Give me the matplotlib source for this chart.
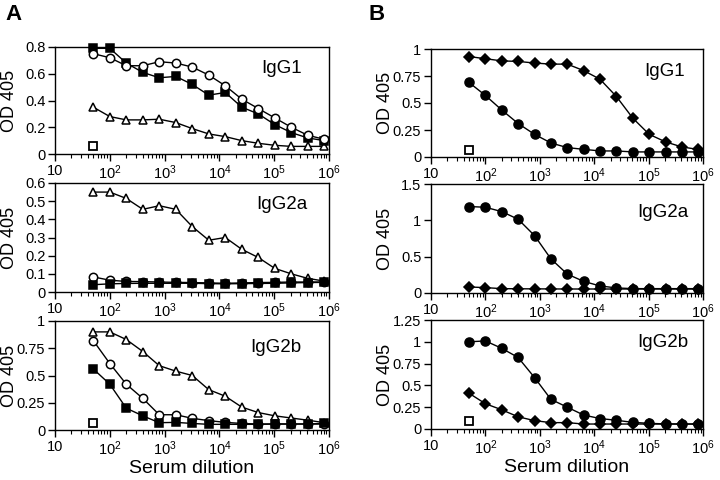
import numpy as np
import matplotlib
matplotlib.use('Agg')
import matplotlib.pyplot as plt
from matplotlib.ticker import LogLocator, NullFormatter

plt.rcParams['font.family'] = ['Liberation Sans', 'DejaVu Sans']
plt.rcParams['mathtext.fontset'] = 'custom'
plt.rcParams['mathtext.rm'] = 'Liberation Sans'
plt.rcParams['mathtext.it'] = 'Liberation Sans'

# serum dilutions (1:50, two-fold)
dilution = [50, 100, 200, 400, 800, 1600, 3200, 6400, 12800, 25600,
            51200, 102400, 204800, 409600, 819200]

# Panel A
a_igg1_circle = [0.75, 0.72, 0.66, 0.66, 0.69, 0.68, 0.65, 0.59, 0.51, 0.41,
                 0.34, 0.27, 0.20, 0.14, 0.11]
a_igg1_square = [0.79, 0.79, 0.68, 0.61, 0.57, 0.58, 0.52, 0.44, 0.46, 0.35,
                 0.30, 0.22, 0.16, 0.12, 0.10]
a_igg1_triangle = [0.35, 0.28, 0.255, 0.255, 0.26, 0.235, 0.19, 0.15, 0.13, 0.10,
                   0.08, 0.065, 0.057, 0.057, 0.057]
a_igg1_ctrl = 0.057

a_igg2a_triangle = [0.55, 0.55, 0.515, 0.455, 0.475, 0.455, 0.36, 0.285, 0.30, 0.235,
                    0.19, 0.13, 0.10, 0.075, 0.06]
a_igg2a_circle = [0.083, 0.065, 0.058, 0.057, 0.055, 0.053, 0.052, 0.05, 0.048, 0.05,
                  0.052, 0.053, 0.055, 0.055, 0.055]
a_igg2a_square = [0.04, 0.045, 0.047, 0.048, 0.048, 0.048, 0.048, 0.046, 0.045, 0.046,
                  0.047, 0.048, 0.05, 0.052, 0.053]

a_igg2b_triangle = [0.90, 0.90, 0.83, 0.72, 0.59, 0.54, 0.50, 0.37, 0.31, 0.21,
                    0.16, 0.13, 0.11, 0.09, 0.067]
a_igg2b_circle = [0.82, 0.61, 0.42, 0.29, 0.14, 0.14, 0.107, 0.086, 0.07, 0.06,
                  0.055, 0.055, 0.055, 0.055, 0.055]
a_igg2b_square = [0.56, 0.42, 0.20, 0.13, 0.067, 0.07, 0.06, 0.052, 0.052, 0.052,
                  0.052, 0.055, 0.055, 0.055, 0.06]
a_igg2b_ctrl = 0.06

# Panel B
b_igg1_diamond = [0.93, 0.91, 0.89, 0.885, 0.87, 0.86, 0.86, 0.80, 0.72, 0.56,
                  0.36, 0.21, 0.14, 0.093, 0.07]
b_igg1_circle = [0.69, 0.57, 0.435, 0.31, 0.21, 0.13, 0.087, 0.071, 0.056, 0.056,
                 0.047, 0.047, 0.047, 0.047, 0.047]
b_igg1_ctrl = 0.062

b_igg2a_circle = [1.19, 1.18, 1.12, 1.015, 0.79, 0.47, 0.26, 0.16, 0.097, 0.07,
                  0.06, 0.06, 0.06, 0.06, 0.06]
b_igg2a_diamond = [0.083, 0.074, 0.06, 0.058, 0.057, 0.056, 0.055, 0.055, 0.055, 0.055,
                   0.055, 0.055, 0.055, 0.055, 0.055]

b_igg2b_circle = [1.0, 1.01, 0.925, 0.82, 0.59, 0.34, 0.25, 0.16, 0.12, 0.10,
                  0.076, 0.065, 0.058, 0.057, 0.057]
b_igg2b_diamond = [0.41, 0.29, 0.22, 0.14, 0.096, 0.073, 0.073, 0.057, 0.057, 0.057,
                   0.057, 0.057, 0.057, 0.057, 0.057]
b_igg2b_ctrl = 0.092

xticklabels = ['10', '$10^2$', '$10^3$', '$10^4$', '$10^5$', '$10^6$']

fig = plt.figure(figsize=(7.2, 4.8), dpi=100)
W, H = 720.0, 480.0


def make_ax(x0, x1, y0, y1):
    return fig.add_axes([x0 / W, 1 - y1 / H, (x1 - x0) / W, (y1 - y0) / H])


def style(ax, yticks, ylabels, ymax, label, lx, ly, ylx):
    ax.set_xscale('log')
    ax.set_xlim(10, 1e6)
    ax.set_ylim(0, ymax)
    ax.set_xticks([10, 1e2, 1e3, 1e4, 1e5, 1e6])
    ax.set_xticklabels(xticklabels, fontsize=10.5)
    ax.xaxis.set_minor_locator(LogLocator(base=10, subs=np.arange(2, 10)))
    ax.xaxis.set_minor_formatter(NullFormatter())
    ax.set_yticks(yticks)
    ax.set_yticklabels(ylabels, fontsize=10.5)
    ax.tick_params(which='major', direction='out', length=5, width=1, pad=2)
    ax.tick_params(which='minor', direction='out', length=3, width=0.8)
    for s in ax.spines.values():
        s.set_linewidth(1)
    ax.set_ylabel('OD 405', fontsize=13)
    ax.yaxis.set_label_coords(ylx, 0.5)
    ax.text(lx, ly, label, transform=ax.transAxes, ha='right', va='center',
            fontsize=13.5)


def line(ax, y, marker, filled, ms=5.5):
    ax.plot(dilution, y, color='black', lw=1, marker=marker, ms=ms,
            mfc='black' if filled else 'white', mec='black', mew=1.1,
            clip_on=False, zorder=3)


def ctrl(ax, y):
    ax.plot([dilution[0]], [y], marker='s', ms=6, mfc='white', mec='black',
            mew=1.3, ls='none', clip_on=False, zorder=3)


# Panel A
ax = make_ax(55, 329, 47, 154)
line(ax, a_igg1_triangle, '^', False)
line(ax, a_igg1_square, 's', True)
line(ax, a_igg1_circle, 'o', False, ms=6)
ctrl(ax, a_igg1_ctrl)
style(ax, [0, 0.2, 0.4, 0.6, 0.8], ['0', '0.2', '0.4', '0.6', '0.8'], 0.8,
      'IgG1', 0.90, 0.80, -0.135)

ax = make_ax(55, 329, 183, 292)
line(ax, a_igg2a_triangle, '^', False)
line(ax, a_igg2a_circle, 'o', False, ms=6)
line(ax, a_igg2a_square, 's', True)
style(ax, [0, 0.1, 0.2, 0.3, 0.4, 0.5, 0.6],
      ['0', '0.1', '0.2', '0.3', '0.4', '0.5', '0.6'], 0.6, 'IgG2a', 0.92, 0.80,
      -0.135)

ax = make_ax(55, 329, 321, 430)
line(ax, a_igg2b_triangle, '^', False)
line(ax, a_igg2b_circle, 'o', False, ms=6)
line(ax, a_igg2b_square, 's', True)
ctrl(ax, a_igg2b_ctrl)
style(ax, [0, 0.25, 0.5, 0.75, 1], ['0', '0.25', '0.5', '0.75', '1'], 1,
      'IgG2b', 0.90, 0.76, -0.135)
ax.set_xlabel('Serum dilution', fontsize=14, labelpad=1)

# Panel B
ax = make_ax(431, 703, 49, 157)
line(ax, b_igg1_diamond, 'D', True, ms=5)
line(ax, b_igg1_circle, 'o', True, ms=6.5)
ctrl(ax, b_igg1_ctrl)
style(ax, [0, 0.25, 0.5, 0.75, 1], ['0', '0.25', '0.5', '0.75', '1'], 1,
      'IgG1', 0.935, 0.79, -0.135)

ax = make_ax(431, 703, 184, 293)
line(ax, b_igg2a_diamond, 'D', True, ms=5)
line(ax, b_igg2a_circle, 'o', True, ms=6.5)
style(ax, [0, 0.5, 1, 1.5], ['0', '0.5', '1', '1.5'], 1.5, 'IgG2a', 0.945, 0.74,
      -0.135)

ax = make_ax(431, 703, 320, 429)
line(ax, b_igg2b_diamond, 'D', True, ms=5)
line(ax, b_igg2b_circle, 'o', True, ms=6.5)
ctrl(ax, b_igg2b_ctrl)
style(ax, [0, 0.25, 0.5, 0.75, 1, 1.25], ['0', '0.25', '0.5', '0.75', '1', '1.25'],
      1.25, 'IgG2b', 0.945, 0.79, -0.135)
ax.set_xlabel('Serum dilution', fontsize=14, labelpad=1)

fig.text(5 / W, 1 - 15 / H, 'A', fontsize=16, fontweight='bold', va='center')
fig.text(368 / W, 1 - 15 / H, 'B', fontsize=16, fontweight='bold', va='center')

fig.savefig('out.png', dpi=100)
